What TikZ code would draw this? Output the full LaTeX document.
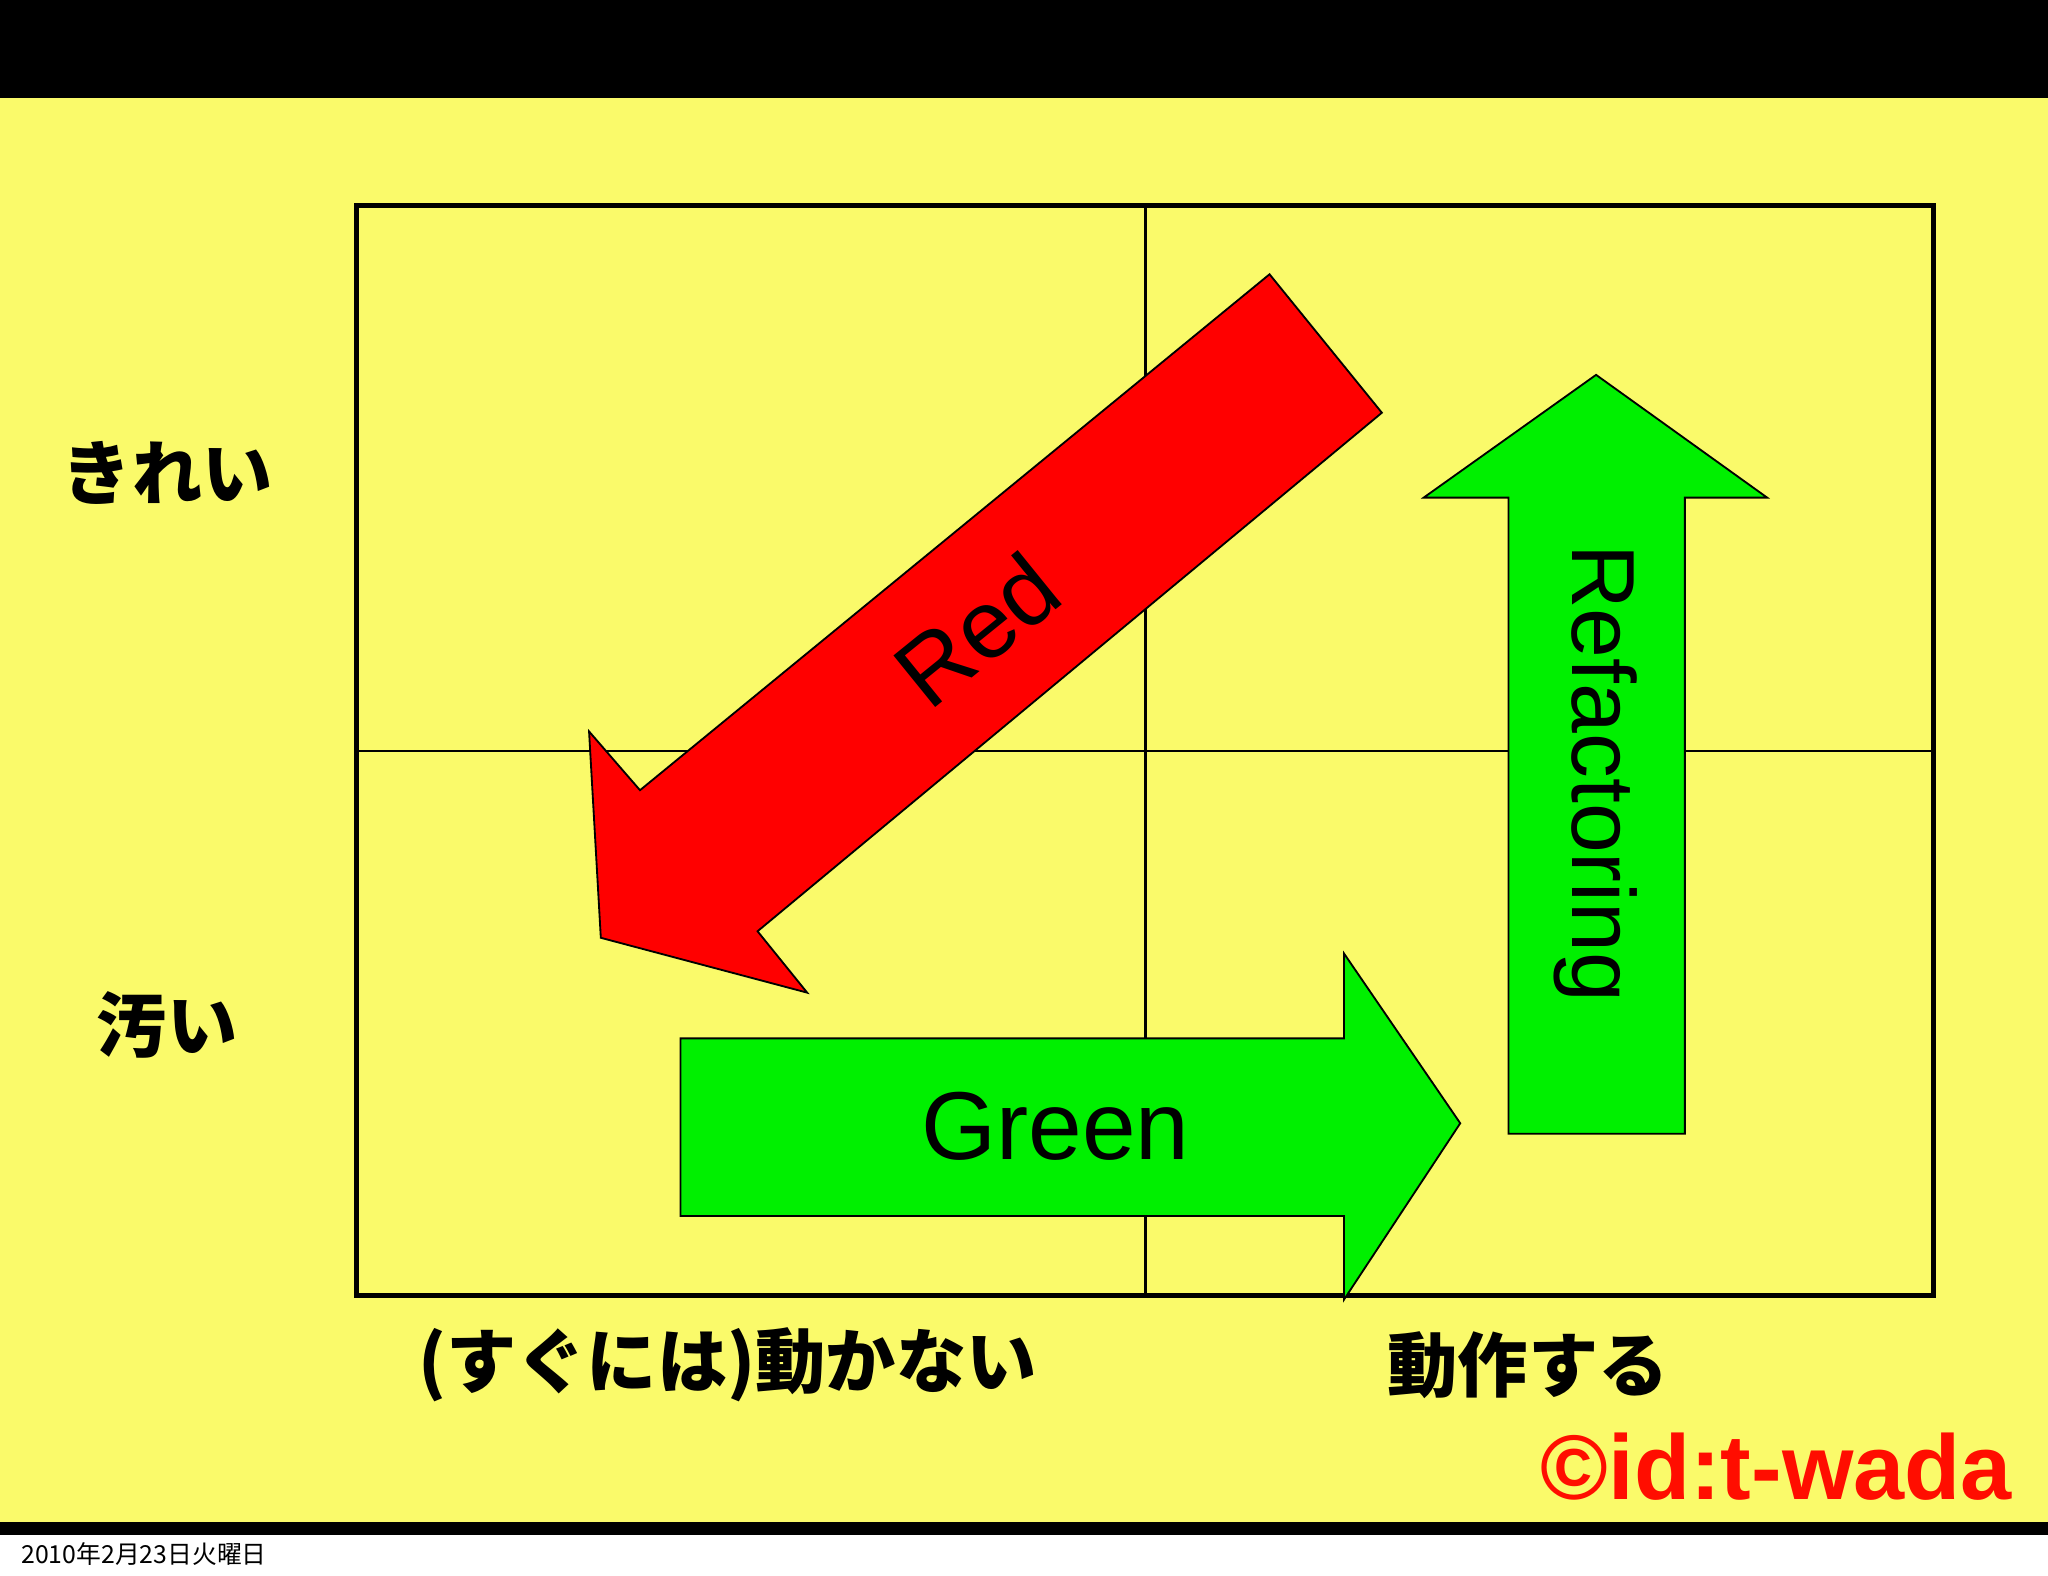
\documentclass[tikz,border=0pt]{standalone}
\usepackage{fontspec}
\setmainfont{Liberation Sans}
\newfontfamily\jp{Noto Sans CJK JP}
\begin{document}
\begin{tikzpicture}[x=0.01cm,y=-0.01cm,
  arr/.style={draw=black,line width=0.4pt,line join=miter},
  lab/.style={font=\jp\bfseries\fontsize{15.3}{15}\selectfont},
  big/.style={font=\fontsize{21}{21}\selectfont}]
\definecolor{bg}{HTML}{FAFA6A}
\definecolor{gr}{HTML}{00F000}
\useasboundingbox (0,0) rectangle (1568,1206);
\fill[white] (0,0) rectangle (1568,1206);
\fill[black] (0,0) rectangle (1568,75);
\fill[bg] (0,75) rectangle (1568,1165);
\fill[black] (0,1165) rectangle (1568,1175);
\node[font=\jp\fontsize{5.4}{6}\selectfont,anchor=west] (date) at (4,1190) {2010年2月23日火曜日};
\draw[line width=0.5pt] (877,157) -- (877,992) (273,575) -- (1480,575);
\draw[line width=1.1pt] (273,157) rectangle (1480,992);
\draw[arr,fill=red] (972,210) -- (1058,316) -- (580,713) -- (618,760) -- (460,718) -- (451,560) -- (490,605) -- cycle;
\draw[arr,fill=gr] (521,795) -- (1029,795) -- (1029,730) -- (1118,860) -- (1029,995) -- (1029,931) -- (521,931) -- cycle;
\draw[arr,fill=gr] (1155,868) -- (1290,868) -- (1290,381) -- (1353,381) -- (1222,287) -- (1090,381) -- (1155,381) -- cycle;
\node[big,rotate=39] (red) at (748,482) {Red};
\node[big] (green) at (808,862) {Green};
\node[font=\fontsize{19.5}{20}\selectfont,rotate=-90] (ref) at (1222,592) {Refactoring};
\node[lab] (clean) at (128,362) {きれい};
\node[lab] (dirty) at (128,785) {汚い};
\node[lab] (notw) at (557,1045) {(すぐには)動かない};
\node[lab] (works) at (1170,1045) {動作する};
\node[font=\bfseries\fontsize{20}{20}\selectfont,text=red!90!orange] (cp) at (1360,1123) {©id:t-wada};
\end{tikzpicture}
\end{document}
